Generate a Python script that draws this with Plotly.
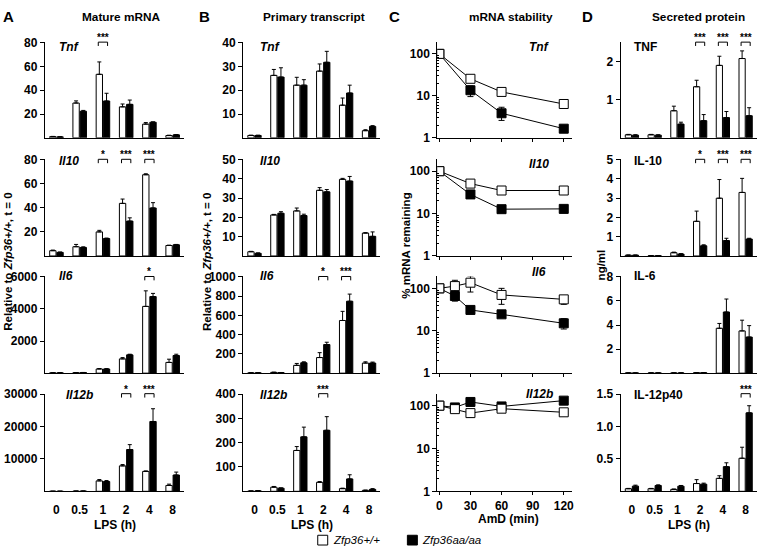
import plotly.graph_objects as go

W, H = 760, 553
FONT = "Liberation Sans, Arial, sans-serif"

# ---------------- data ----------------
lps_labels = ["0", "0.5", "1", "2", "4", "8"]
amd_ticks = [0, 30, 60, 90, 120]

# A: Mature mRNA (relative to Zfp36+/+, t=0)
mature_tnf_wt = [1.0, 29.2, 53.3, 26.0, 11.5, 1.9]
mature_tnf_wt_err = [0.2, 1.8, 10.4, 2.4, 1.3, 0.3]
mature_tnf_aa = [0.8, 22.3, 30.9, 28.1, 13.1, 2.5]
mature_tnf_aa_err = [0.1, 0.7, 6.5, 3.6, 0.3, 0.2]
mature_il10_wt = [4.4, 7.7, 20.0, 43.7, 67.5, 8.7]
mature_il10_wt_err = [0.5, 1.9, 1.3, 3.6, 0.8, 0.3]
mature_il10_aa = [3.0, 7.1, 14.5, 29.0, 39.9, 9.3]
mature_il10_aa_err = [0.3, 0.5, 0.4, 2.7, 4.4, 0.3]
mature_il6_wt = [20, 30, 260, 890, 4160, 670]
mature_il6_wt_err = [5, 5, 30, 80, 970, 200]
mature_il6_aa = [20, 40, 260, 1140, 4770, 1100]
mature_il6_aa_err = [5, 5, 20, 40, 200, 80]
mature_il12b_wt = [20, 60, 3220, 7850, 6140, 1810]
mature_il12b_wt_err = [5, 10, 400, 400, 150, 400]
mature_il12b_aa = [20, 80, 3020, 12890, 21540, 5030]
mature_il12b_aa_err = [5, 10, 300, 1510, 3930, 900]

# B: Primary transcript
primary_tnf_wt = [1.0, 26.2, 22.1, 28.0, 13.7, 3.0]
primary_tnf_wt_err = [0.1, 2.5, 3.3, 3.0, 3.0, 0.4]
primary_tnf_aa = [1.0, 25.5, 22.1, 31.7, 18.8, 4.8]
primary_tnf_aa_err = [0.1, 3.9, 2.3, 4.6, 3.3, 0.3]
primary_il10_wt = [2.2, 21.3, 23.4, 34.1, 39.8, 11.9]
primary_il10_wt_err = [0.2, 0.3, 1.5, 1.4, 0.5, 0.2]
primary_il10_aa = [1.4, 22.2, 21.0, 33.3, 38.9, 10.2]
primary_il10_aa_err = [0.2, 0.8, 0.7, 1.2, 2.4, 2.3]
primary_il6_wt = [3, 8, 81, 162, 547, 105]
primary_il6_wt_err = [1, 2, 20, 51, 95, 13]
primary_il6_aa = [3, 6, 108, 297, 747, 105]
primary_il6_aa_err = [1, 1, 10, 24, 74, 10]
primary_il12b_wt = [1, 17, 168, 37, 11, 4]
primary_il12b_wt_err = [0.5, 3, 16, 3, 2, 1]
primary_il12b_aa = [2, 13, 224, 251, 51, 8]
primary_il12b_aa_err = [0.5, 1, 40, 56, 17, 3]

# C: mRNA stability (% remaining after AmD)
stab_tnf_t = [0, 30, 60, 120]
stab_tnf_wt = [100, 25.5, 12.4, 6.4]
stab_tnf_wt_up = [5, 2, 1, 1]
stab_tnf_wt_dn = [5, 2, 1, 1]
stab_tnf_aa = [100, 13.6, 3.85, 1.65]
stab_tnf_aa_up = [5, 3.6, 1.5, 0.2]
stab_tnf_aa_dn = [5, 4.0, 1.25, 0.2]
stab_il10_t = [0, 30, 60, 120]
stab_il10_wt = [100, 51, 35, 35]
stab_il10_wt_up = [4, 3, 2, 2]
stab_il10_wt_dn = [4, 3, 2, 2]
stab_il10_aa = [100, 28.3, 12.7, 12.9]
stab_il10_aa_up = [4, 2, 1, 1]
stab_il10_aa_dn = [4, 2, 1, 1]
stab_il6_t = [0, 15, 30, 60, 120]
stab_il6_wt = [100, 113, 136, 70, 55]
stab_il6_wt_up = [15, 42, 59, 30, 11]
stab_il6_wt_dn = [18, 30, 54, 28, 13]
stab_il6_aa = [100, 66, 31, 24.4, 15]
stab_il6_aa_up = [5, 16, 4, 2, 4.3]
stab_il6_aa_dn = [5, 16, 4, 2, 4]
stab_il12b_t = [0, 15, 30, 60, 120]
stab_il12b_wt = [100, 83, 67, 85, 70]
stab_il12b_wt_up = [5, 5, 5, 5, 5]
stab_il12b_wt_dn = [5, 5, 13, 5, 5]
stab_il12b_aa = [100, 91, 122, 96, 131]
stab_il12b_aa_up = [5, 5, 5, 5, 5]
stab_il12b_aa_dn = [5, 5, 5, 5, 5]

# D: Secreted protein (ng/ml)
prot_tnf_wt = [0.08, 0.08, 0.71, 1.34, 1.90, 2.08]
prot_tnf_wt_err = [0.01, 0.01, 0.12, 0.17, 0.24, 0.20]
prot_tnf_aa = [0.07, 0.07, 0.36, 0.45, 0.53, 0.58]
prot_tnf_aa_err = [0.01, 0.01, 0.05, 0.16, 0.16, 0.21]
prot_il10_wt = [0.04, 0.01, 0.17, 1.80, 3.00, 3.30]
prot_il10_wt_err = [0.01, 0.0, 0.03, 0.53, 0.97, 0.73]
prot_il10_aa = [0.04, 0.01, 0.10, 0.53, 0.80, 0.88]
prot_il10_aa_err = [0.01, 0.0, 0.02, 0.05, 0.12, 0.04]
prot_il6_wt = [0.02, 0.02, 0.02, 0.04, 3.73, 3.51]
prot_il6_wt_err = [0, 0, 0, 0.01, 0.40, 0.89]
prot_il6_aa = [0.02, 0.02, 0.02, 0.04, 5.08, 3.00]
prot_il6_aa_err = [0, 0, 0, 0.01, 1.08, 0.95]
prot_il12_wt = [0.04, 0.04, 0.03, 0.12, 0.20, 0.51]
prot_il12_wt_err = [0.005, 0.005, 0.005, 0.06, 0.04, 0.17]
prot_il12_aa = [0.08, 0.09, 0.08, 0.11, 0.38, 1.21]
prot_il12_aa_err = [0.015, 0.01, 0.01, 0.016, 0.06, 0.11]

# significance marks: group index -> stars
sig_mature_tnf = {2: "***"}
sig_mature_il10 = {2: "*", 3: "***", 4: "***"}
sig_mature_il6 = {4: "*"}
sig_mature_il12b = {3: "*", 4: "***"}
sig_primary_il6 = {3: "*", 4: "***"}
sig_primary_il12b = {3: "***"}
sig_prot_tnf = {3: "***", 4: "***", 5: "***"}
sig_prot_il10 = {3: "*", 4: "***", 5: "***"}
sig_prot_il12 = {5: "***"}

# ---------------- layout geometry (pixels) ----------------
cols = [(44, 184), (243, 381), (438, 573), (622, 759)]
rows = [(37, 135), (157, 256), (277, 376), (397, 497)]
label_dx = {0: 12, 1: 15, 3: 11}          # gene label offset from y axis, px
label_dy = [-5, -2, 0, -1]                # gene label centre vs plot top, px


def xdom(c):
    return [cols[c][0] / W, cols[c][1] / W]


def ydom(r):
    return [1 - rows[r][1] / H, 1 - rows[r][0] / H]


def px(x):
    return x / W


def py(y):
    return 1 - y / H


tickfont = dict(family=FONT, size=12, color="black", weight="bold")

fig = go.Figure()
layout = {}
shapes = []
annotations = []


def names(i):
    return ("x" if i == 1 else f"x{i}"), ("y" if i == 1 else f"y{i}")


bar_panels = [
    (0, 0, "Tnf", True, mature_tnf_wt, mature_tnf_wt_err, mature_tnf_aa, mature_tnf_aa_err, [0, 80], [20, 40, 60, 80], None, sig_mature_tnf),
    (0, 1, "Il10", True, mature_il10_wt, mature_il10_wt_err, mature_il10_aa, mature_il10_aa_err, [0, 80], [20, 40, 60, 80], None, sig_mature_il10),
    (0, 2, "Il6", True, mature_il6_wt, mature_il6_wt_err, mature_il6_aa, mature_il6_aa_err, [0, 6000], [2000, 4000, 6000], None, sig_mature_il6),
    (0, 3, "Il12b", True, mature_il12b_wt, mature_il12b_wt_err, mature_il12b_aa, mature_il12b_aa_err, [0, 30000], [10000, 20000, 30000], None, sig_mature_il12b),
    (1, 0, "Tnf", True, primary_tnf_wt, primary_tnf_wt_err, primary_tnf_aa, primary_tnf_aa_err, [0, 40], [10, 20, 30, 40], None, {}),
    (1, 1, "Il10", True, primary_il10_wt, primary_il10_wt_err, primary_il10_aa, primary_il10_aa_err, [0, 50], [10, 20, 30, 40, 50], None, {}),
    (1, 2, "Il6", True, primary_il6_wt, primary_il6_wt_err, primary_il6_aa, primary_il6_aa_err, [0, 1000], [200, 400, 600, 800, 1000], None, sig_primary_il6),
    (1, 3, "Il12b", True, primary_il12b_wt, primary_il12b_wt_err, primary_il12b_aa, primary_il12b_aa_err, [0, 400], [100, 200, 300, 400], None, sig_primary_il12b),
    (3, 0, "TNF", False, prot_tnf_wt, prot_tnf_wt_err, prot_tnf_aa, prot_tnf_aa_err, [0, 2.5], [1, 2], None, sig_prot_tnf),
    (3, 1, "IL-10", False, prot_il10_wt, prot_il10_wt_err, prot_il10_aa, prot_il10_aa_err, [0, 5], [1, 2, 3, 4, 5], None, sig_prot_il10),
    (3, 2, "IL-6", False, prot_il6_wt, prot_il6_wt_err, prot_il6_aa, prot_il6_aa_err, [0, 8], [2, 4, 6, 8], None, {}),
    (3, 3, "IL-12p40", False, prot_il12_wt, prot_il12_wt_err, prot_il12_aa, prot_il12_aa_err, [0, 1.5], [0.5, 1.0, 1.5], ["0.5", "1.0", "1.5"], sig_prot_il12),
]

xs = list(range(len(lps_labels)))
for (c, r, label, italic, wt, wte, aa, aae, yr, ytv, ytt, sig) in bar_panels:
    i = r * 4 + c + 1
    xa, ya = names(i)
    for vals, errs, fill in ((wt, wte, "white"), (aa, aae, "black")):
        fig.add_trace(go.Bar(
            x=xs, y=vals, xaxis=xa, yaxis=ya, showlegend=False,
            marker=dict(color=fill, line=dict(color="black", width=1)),
            error_y=dict(type="data", symmetric=False, array=errs,
                         arrayminus=[0] * len(errs), color="black",
                         thickness=1, width=2),
        ))
    layout["xaxis" + ("" if i == 1 else str(i))] = dict(
        domain=xdom(c), anchor=ya, range=[-0.5, 5.5], showline=True,
        linecolor="black", linewidth=1, ticks="", tickvals=xs,
        ticktext=lps_labels, showticklabels=(r == 3), showgrid=False,
        zeroline=False, tickfont=tickfont, ticklabelstandoff=7, fixedrange=True)
    yax = dict(domain=ydom(r), anchor=xa, range=[yr[0], yr[1] * 1.004], tickvals=ytv,
               ticktext=ytt if ytt else [str(v) for v in ytv],
               ticks="outside", ticklen=4, tickwidth=1, tickcolor="black",
               showline=True, linecolor="black", linewidth=1, showgrid=False,
               zeroline=False, tickfont=tickfont, fixedrange=True,
               ticklabeloverflow="allow")
    layout["yaxis" + ("" if i == 1 else str(i))] = yax
    txt = f"<b><i>{label}</i></b>" if italic else f"<b>{label}</b>"
    dx = label_dx[c] + (7 if label == "Il12b" and c == 0 else 0)
    annotations.append(dict(text=txt, xref=f"{xa} domain", yref=f"{ya} domain",
                            x=0, y=1.0, xanchor="left", yanchor="middle",
                            xshift=dx, yshift=label_dy[r], showarrow=False,
                            font=dict(family=FONT, size=12, color="black")))
    yd = f"{ya} domain"
    for g, stars in sig.items():
        shapes.append(dict(type="line", xref=xa, yref=yd, x0=g - 0.2, x1=g + 0.2,
                           y0=1.0, y1=1.0, line=dict(color="black", width=1)))
        for xe in (g - 0.2, g + 0.2):
            shapes.append(dict(type="line", xref=xa, yref=yd, x0=xe, x1=xe,
                               y0=0.96, y1=1.0, line=dict(color="black", width=1)))
        annotations.append(dict(text=f"<b>{stars}</b>", xref=xa, yref=yd, x=g, y=1.0,
                                xanchor="center", yanchor="bottom", showarrow=False,
                                yshift=-3, font=dict(family=FONT, size=10, color="black")))

stab_panels = [
    (0, "Tnf", stab_tnf_t, stab_tnf_wt, stab_tnf_wt_up, stab_tnf_wt_dn, stab_tnf_aa, stab_tnf_aa_up, stab_tnf_aa_dn),
    (1, "Il10", stab_il10_t, stab_il10_wt, stab_il10_wt_up, stab_il10_wt_dn, stab_il10_aa, stab_il10_aa_up, stab_il10_aa_dn),
    (2, "Il6", stab_il6_t, stab_il6_wt, stab_il6_wt_up, stab_il6_wt_dn, stab_il6_aa, stab_il6_aa_up, stab_il6_aa_dn),
    (3, "Il12b", stab_il12b_t, stab_il12b_wt, stab_il12b_wt_up, stab_il12b_wt_dn, stab_il12b_aa, stab_il12b_aa_up, stab_il12b_aa_dn),
]
stab_label_shift = [-5, -5, 4, 0]
for (r, label, t, wt, wu, wd, aa, au, ad) in stab_panels:
    c = 2
    i = r * 4 + c + 1
    xa, ya = names(i)
    for vals, up, dn, fill in ((aa, au, ad, "black"), (wt, wu, wd, "white")):
        fig.add_trace(go.Scatter(
            x=t, y=vals, xaxis=xa, yaxis=ya, mode="lines+markers", showlegend=False,
            line=dict(color="black", width=1),
            marker=dict(symbol="square", size=9, color=fill, line=dict(color="black", width=1)),
            error_y=dict(type="data", symmetric=False, array=up, arrayminus=dn,
                         color="black", thickness=1, width=3),
        ))
    layout["xaxis" + str(i)] = dict(
        domain=xdom(c), anchor=ya, range=[-2, 127.7], showline=True,
        linecolor="black", linewidth=1, ticks="outside", ticklen=3, tickcolor="black",
        tickvals=amd_ticks, showticklabels=(r == 3), showgrid=False, zeroline=False,
        tickfont=tickfont, fixedrange=True)
    layout["yaxis" + str(i)] = dict(
        domain=ydom(r), anchor=xa, type="log", range=[0, 2.28],
        tickvals=[1, 10, 100], ticktext=["1", "10", "100"], ticks="outside", ticklen=4,
        tickcolor="black", showline=True, linecolor="black", linewidth=1,
        showgrid=False, zeroline=False, tickfont=tickfont, fixedrange=True,
        ticklabeloverflow="allow",
        minor=dict(ticks="inside", ticklen=2, tickcolor="black", showgrid=False,
                   tickvals=[v * m for m in (1, 10, 100) for v in range(2, 10)]))
    annotations.append(dict(text=f"<b><i>{label}</i></b>", xref=f"{xa} domain",
                            yref=f"{ya} domain", x=0.76, y=1.0, xanchor="center",
                            yanchor="middle", yshift=stab_label_shift[r], showarrow=False,
                            font=dict(family=FONT, size=12, color="black")))

# panel letters / headers
headers = [("A", 8, "Mature mRNA", 120), ("B", 204, "Primary transcript", 314),
           ("C", 395, "mRNA stability", 512), ("D", 589, "Secreted protein", 700)]
for letter, lx, title, tx in headers:
    annotations.append(dict(text=f"<b>{letter}</b>", xref="paper", yref="paper",
                            x=px(lx), y=py(11), xanchor="center", yanchor="middle",
                            showarrow=False, font=dict(family=FONT, size=15, color="black")))
    annotations.append(dict(text=f"<b>{title}</b>", xref="paper", yref="paper",
                            x=px(tx), y=py(11), xanchor="center", yanchor="middle",
                            showarrow=False, font=dict(family=FONT, size=11.8, color="black")))

# y-axis titles
ytitles = [("Relative to <i>Zfp36+/+</i>, t = 0", 7, 262),
           ("Relative to <i>Zfp36+/+</i>, t = 0", 207, 262),
           ("% mRNA remaining", 407, 245),
           ("ng/ml", 602, 265)]
for txt, x, y in ytitles:
    annotations.append(dict(text=f"<b>{txt}</b>", xref="paper", yref="paper",
                            x=px(x), y=py(y), xanchor="center", yanchor="middle",
                            textangle=-90, showarrow=False,
                            font=dict(family=FONT, size=11.5, color="black")))

# x-axis titles
xtitles = [("LPS (h)", (cols[0][0] + cols[0][1]) / 2, 532),
           ("LPS (h)", (cols[1][0] + cols[1][1]) / 2, 532),
           ("AmD (min)", (cols[2][0] + cols[2][1]) / 2 + 4, 525),
           ("LPS (h)", (cols[3][0] + cols[3][1]) / 2, 532)]
for txt, x, y in xtitles:
    annotations.append(dict(text=f"<b>{txt}</b>", xref="paper", yref="paper",
                            x=px(x), y=py(y), xanchor="center", yanchor="middle",
                            showarrow=False, font=dict(family=FONT, size=12, color="black")))

# key
legend_items = [("Zfp36+/+", "white", 318), ("Zfp36aa/aa", "black", 408)]
for name, fill, x in legend_items:
    shapes.append(dict(type="rect", xref="paper", yref="paper", x0=px(x), x1=px(x + 10),
                       y0=py(552), y1=py(542), fillcolor=fill,
                       line=dict(color="black", width=1)))
    annotations.append(dict(text=f"<i>{name}</i>", xref="paper", yref="paper",
                            x=px(x + 13), y=py(547), xanchor="left", yanchor="middle",
                            showarrow=False, font=dict(family=FONT, size=11.5, color="black")))

fig.update_layout(
    width=W, height=H, autosize=False,
    margin=dict(l=0, r=0, t=0, b=0),
    paper_bgcolor="white", plot_bgcolor="white",
    barmode="group", bargap=0.38, bargroupgap=0.12,
    font=dict(family=FONT, color="black"),
    shapes=shapes, annotations=annotations, showlegend=False,
    hovermode=False,
    **layout,
)

fig.write_html("out.html", config={"displayModeBar": False, "staticPlot": True},
               post_script="document.body.style.margin='0px';document.body.style.overflow='hidden';")
